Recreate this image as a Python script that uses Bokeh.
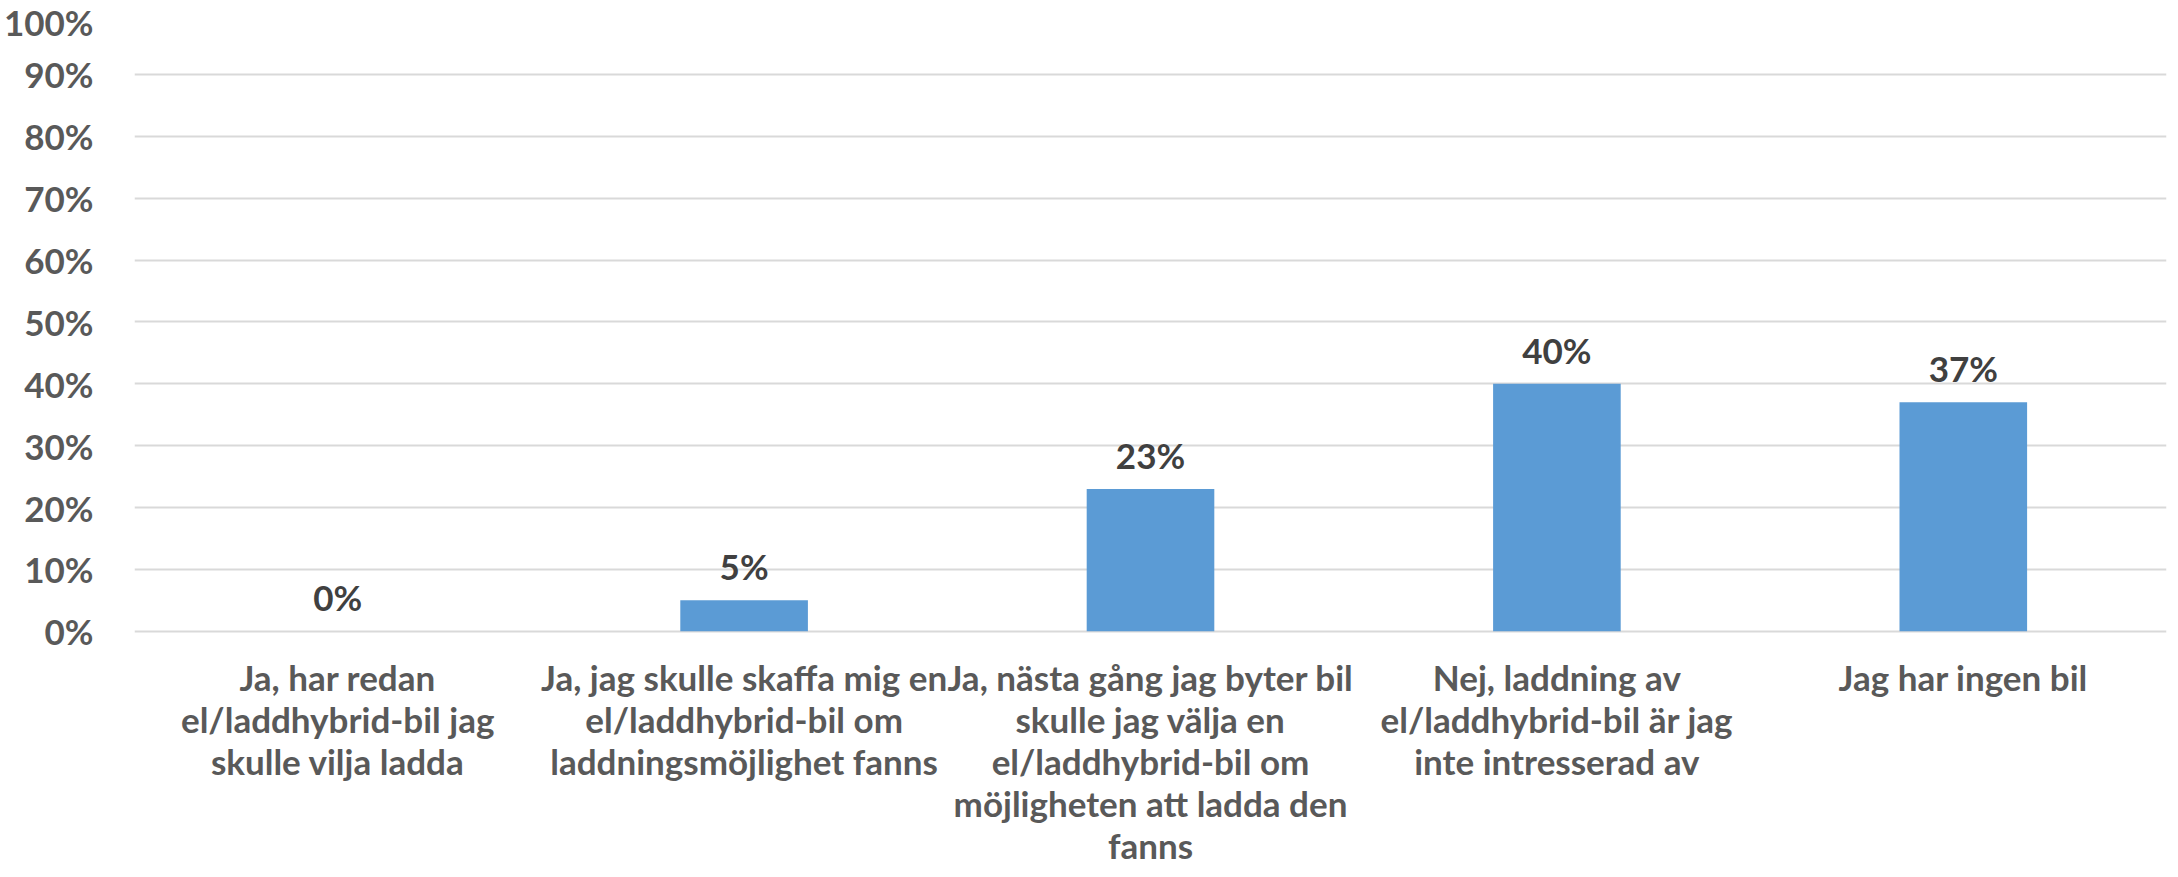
from bokeh.plotting import figure
from bokeh.models import ColumnDataSource, Range1d, NumeralTickFormatter, FixedTicker, LabelSet
from bokeh.core.properties import value
from bokeh.embed import file_html
from bokeh.resources import INLINE

categories = [
    "Ja, har redan\nel/laddhybrid-bil jag\nskulle vilja ladda",
    "Ja, jag skulle skaffa mig en\nel/laddhybrid-bil om\nladdningsmöjlighet fanns",
    "Ja, nästa gång jag byter bil\nskulle jag välja en\nel/laddhybrid-bil om\nmöjligheten att ladda den\nfanns",
    "Nej, laddning av\nel/laddhybrid-bil är jag\ninte intresserad av",
    "Jag har ingen bil",
]
values_pct = [0, 5, 23, 40, 37]
y_ticks = [0, 0.1, 0.2, 0.3, 0.4, 0.5, 0.6, 0.7, 0.8, 0.9, 1.0]

FONT = "Lato"
LINE_GAP = 42
FIRST_LINE = 46

src = ColumnDataSource(dict(
    cat=categories,
    val=[v / 100 for v in values_pct],
    lab=[f"{v}%" for v in values_pct],
))

# one row per wrapped line of each category label, so every line is centred
line_cat, line_txt, line_off = [], [], []
for c in categories:
    for i, ln in enumerate(c.split("\n")):
        line_cat.append(c)
        line_txt.append(ln)
        line_off.append(-FIRST_LINE - i * LINE_GAP)
line_src = ColumnDataSource(dict(cat=line_cat, txt=line_txt, base=[0] * len(line_cat), off=line_off))

# frame extends below 0 so that the category labels can be drawn inside it
p = figure(
    x_range=categories, y_range=Range1d(-0.385, 1),
    width=2170, height=869, output_backend="svg", toolbar_location=None,
    x_axis_location=None,
    min_border_left=125, min_border_right=4, min_border_top=12, min_border_bottom=0,
)
p.outline_line_color = None
p.background_fill_color = "white"
p.border_fill_color = "white"

p.vbar(x="cat", top="val", width=0.314, source=src, color="#5B9BD5", line_color=None)

labels = LabelSet(x="cat", y="val", text="lab", source=src, text_align="center",
                  text_baseline="bottom", y_offset=13, text_font=value(FONT),
                  text_font_style="bold", text_font_size="35px", text_color="#404040")
p.add_layout(labels)

cat_labels = LabelSet(x="cat", y="base", text="txt", source=line_src, text_align="center",
                      text_baseline="middle", y_offset="off", text_font=value(FONT),
                      text_font_style="bold", text_font_size="35px", text_color="#595959")
p.add_layout(cat_labels)

p.yaxis.ticker = FixedTicker(ticks=y_ticks)
p.yaxis.formatter = NumeralTickFormatter(format="0%")
p.yaxis.axis_line_color = None
p.yaxis.major_tick_line_color = None
p.yaxis.minor_tick_line_color = None
p.yaxis.major_label_standoff = 35
p.yaxis.major_label_text_font = FONT
p.yaxis.major_label_text_font_style = "bold"
p.yaxis.major_label_text_font_size = "35px"
p.yaxis.major_label_text_color = "#595959"

p.xgrid.grid_line_color = None
p.ygrid.grid_line_color = "#D9D9D9"
p.ygrid.grid_line_width = 2

open("out.html", "w").write(file_html(p, INLINE))
